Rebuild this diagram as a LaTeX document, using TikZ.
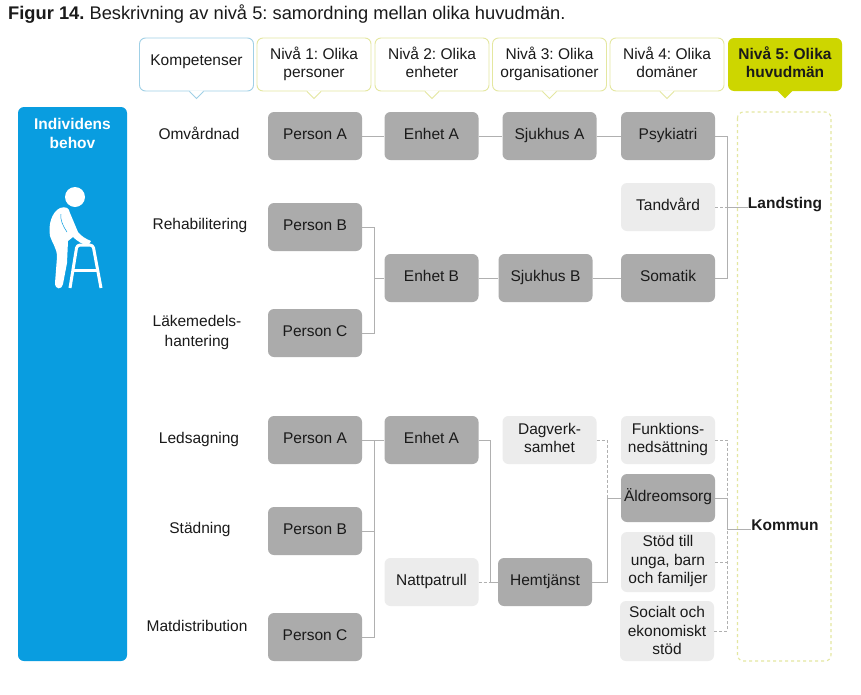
\documentclass[tikz,border=0pt]{standalone}
\usepackage{fontspec}
\setmainfont{Liberation Sans}
\usetikzlibrary{calc}
\definecolor{behovBlue}{RGB}{9, 157, 224}
\definecolor{limeDark}{RGB}{205, 214, 0}
\definecolor{limePale}{RGB}{228, 231, 160}
\definecolor{bluePale}{RGB}{160, 208, 230}
\definecolor{boxGrey}{RGB}{171, 171, 171}
\definecolor{boxLight}{RGB}{236, 236, 236}
\definecolor{linkGrey}{RGB}{176, 176, 176}
\definecolor{textDark}{RGB}{26, 26, 26}
\tikzset{
  txt/.style={font=\fontsize{15.5}{18.4}\selectfont, align=center, text=textDark, inner sep=0pt, text depth=4.5},
  oneline/.style={text height=11.5},
  sidebox/.style={txt, fill=boxLight, rounded corners=6, minimum width=94, minimum height=48},
  mainbox/.style={sidebox, oneline, fill=boxGrey},
  headbox/.style={txt, rounded corners=6, minimum width=114, minimum height=53, line width=0.9},
  need/.style={txt, oneline},
  owner/.style={need, font=\fontsize{15.5}{18.4}\selectfont\bfseries},
  link/.style={linkGrey, line width=0.9},
  sidelink/.style={link, densely dashed}
}

\begin{document}
\frenchspacing
\begin{tikzpicture}[x=1pt, y=-1pt]
  \useasboundingbox (0,0) rectangle (861,694);
  \fill[white] (0,0) rectangle (861,694);

  \node[anchor=base west, inner sep=0pt, text=textDark, font=\fontsize{18.3}{20}\selectfont] (title) at (8,19) {\textbf{Figur 14.} Beskrivning av nivå 5: samordning mellan olika huvudmän.};

  % headers
  \foreach \hname/\hx/\htext/\hline in {
      headKomp/196.5/{\raisebox{5pt}{Kompetenser}}/bluePale,
      headOne/314/{Nivå 1: Olika\\personer}/limePale,
      headTwo/432/{Nivå 2: Olika\\enheter}/limePale,
      headThree/549.5/{Nivå 3: Olika\\organisationer}/limePale,
      headFour/667/{Nivå 4: Olika\\domäner}/limePale} {
    \node[headbox, draw=\hline, fill=white] (\hname) at (\hx,64.5) {\htext};
    \fill[white] ($(\hname.south)+(-7,-1)$) -- ($(\hname.south)+(0,7)$) -- ($(\hname.south)+(7,-1)$) -- cycle;
    \draw[\hline, line width=0.9] ($(\hname.south)+(-7,0)$) -- ($(\hname.south)+(0,7)$) -- ($(\hname.south)+(7,0)$);
  }
  \node[headbox, fill=limeDark, font=\fontsize{15.5}{18.4}\selectfont\bfseries] (headFive) at (785,64.5) {Nivå 5: Olika\\huvudmän};
  \fill[limeDark] ($(headFive.south)+(-8,-1)$) -- ($(headFive.south)+(0,7)$) -- ($(headFive.south)+(8,-1)$) -- cycle;

  % left panel
  \node[rounded corners=6, fill=behovBlue, minimum width=109, minimum height=554] (panel) at (72.5,384) {};
  \node[txt, text=white, font=\fontsize{15.5}{19}\selectfont\bfseries] (panelText) at (72.5,136) {Individens\\behov};
  \fill[white] (75,197) circle (10);
  \fill[white] (60,208) .. controls (66,206) and (69,208) .. (70,213) -- (78,232)
    .. controls (81,236) and (86,239) .. (91,241) -- (88,246)
    .. controls (82,244) and (77,241) .. (73,237) -- (68,241) -- (67,263)
    -- (63,284) .. controls (62,290) and (55,290) .. (55,283)
    -- (57,257) .. controls (57,248) and (52,243) .. (50,236)
    .. controls (48,224) and (52,212) .. (60,208) -- cycle;
  \draw[behovBlue, line width=0.5] (61,214) .. controls (60,220) and (63,226) .. (67,232);
  \draw[white, line width=3, line join=round, rounded corners=3] (70,288) -- (77,245) -- (93,245) -- (101,288);
  \draw[white, line width=3] (73,270) -- (98,270);

  % right panel
  \draw[limePale, line width=1.1, dashed, rounded corners=6] (737.5,112) rectangle (831,661);

  % needs
  \node[need] (omv) at (199,136) {Omvårdnad};
  \node[need] (reha) at (200,226) {Rehabilitering};
  \node[txt] (lakm) at (197,333) {Läkemedels-\\[1.5pt]hantering};
  \node[need] (leds) at (199,440) {Ledsagning};
  \node[need] (stad) at (200,530) {Städning};
  \node[need] (matd) at (197,628) {Matdistribution};

  % upper group
  \node[mainbox] (personA) at (315,136) {Person A};
  \node[mainbox] (personB) at (315,227) {Person B};
  \node[mainbox] (personC) at (315,333) {Person C};
  \node[mainbox] (enhetA) at (431.5,136) {Enhet A};
  \node[mainbox] (enhetB) at (431.5,278) {Enhet B};
  \node[mainbox] (sjukA) at (549.5,136) {Sjukhus A};
  \node[mainbox] (sjukB) at (545.5,278) {Sjukhus B};
  \node[mainbox] (psyk) at (668,136) {Psykiatri};
  \node[sidebox, oneline] (tand) at (668,207) {Tandvård};
  \node[mainbox] (soma) at (668,278) {Somatik};
  \node[owner] (landsting) at (785,205) {Landsting};

  \coordinate (busUpper) at (727.5,207);
  \coordinate (busB) at (374,278);
  \draw[link] (personA) -- (enhetA);
  \draw[link] (enhetA) -- (sjukA);
  \draw[link] (sjukA) -- (psyk);
  \draw[link] (personB.east) -| (busB);
  \draw[link] (personC.east) -| (busB);
  \draw[link] (busB) -- (enhetB.west);
  \draw[link] (enhetB) -- (sjukB);
  \draw[link] (sjukB) -- (soma);
  \draw[link] (psyk.east) -| (busUpper);
  \draw[link] (soma.east) -| (busUpper);
  \draw[link] (busUpper) -- (landsting.west |- busUpper);
  \draw[sidelink] (tand.east) -- (busUpper);

  % lower group
  \node[mainbox] (personD) at (315,440) {Person A};
  \node[mainbox] (personE) at (315,531) {Person B};
  \node[mainbox] (personF) at (315,637) {Person C};
  \node[mainbox] (enhetC) at (431.5,440) {Enhet A};
  \node[sidebox, oneline] (natt) at (431.5,582) {Nattpatrull};
  \node[sidebox] (dagv) at (549.5,440) {Dagverk-\\samhet};
  \node[mainbox] (hemt) at (545,582) {Hemtjänst};
  \node[sidebox] (funk) at (668,440) {Funktions-\\nedsättning};
  \node[mainbox] (aldr) at (668,498) {Äldreomsorg};
  \node[sidebox, minimum height=60] (stod) at (668,562) {Stöd till\\unga, barn\\och familjer};
  \node[sidebox, minimum height=60, text depth=1] (soci) at (667,631) {Socialt och\\ekonomiskt\\stöd};
  \node[owner] (kommun) at (785,527) {Kommun};

  \coordinate (busD) at (374,440);
  \coordinate (busE) at (490,582);
  \coordinate (busF) at (607,498);
  \coordinate (busLower) at (727.5,529);
  \draw[link] (personD) -- (enhetC);
  \draw[link] (personE.east) -- (busD |- personE);
  \draw[link] (personF.east) -| (busD);
  \draw[link] (enhetC.east) -| (busE);
  \draw[link] (busE) -- (hemt.west);
  \draw[sidelink] (natt.east) -- (busE);
  \draw[link] (hemt.east) -| (busF);
  \draw[link] (busF) -- (aldr.west);
  \draw[sidelink] (dagv.east) -| (busF);
  \draw[link] (aldr.east) -| (busLower);
  \draw[link] (busLower) -- (kommun.west |- busLower);
  \draw[sidelink] (funk.east) -| (busLower);
  \draw[sidelink] (stod.east) -- (busLower |- stod);
  \draw[sidelink] (soci.east) -| (busLower);
\end{tikzpicture}
\end{document}
